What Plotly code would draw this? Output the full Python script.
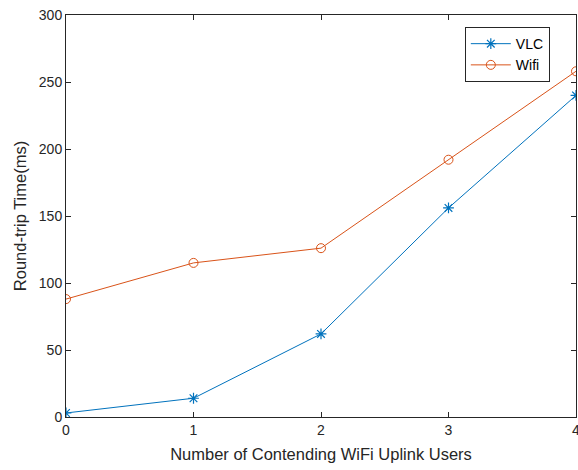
import plotly.graph_objects as go

x_users = [0, 1, 2, 3, 4]
vlc_rtt = [3, 14, 62, 156, 240]
wifi_rtt = [88, 115, 126, 192, 258]
x_ticks = [0, 1, 2, 3, 4]
y_ticks = [0, 50, 100, 150, 200, 250, 300]

fig = go.Figure()
fig.add_trace(go.Scatter(x=x_users, y=vlc_rtt, mode="lines+markers", name="VLC",
                         line=dict(color="#0072BD", width=1),
                         marker=dict(symbol="asterisk-open", size=9, color="#0072BD",
                                     line=dict(color="#0072BD", width=1.2))))
fig.add_trace(go.Scatter(x=x_users, y=wifi_rtt, mode="lines+markers", name="Wifi",
                         line=dict(color="#D95319", width=1),
                         marker=dict(symbol="circle-open", size=9, color="#D95319",
                                     line=dict(color="#D95319", width=1))))

axis_common = dict(showgrid=False, zeroline=False, showline=True, linecolor="#262626",
                   linewidth=1, mirror="ticks", ticks="inside", ticklen=5,
                   tickcolor="#262626", tickfont=dict(size=14, color="#262626"),
                   ticklabeloverflow="allow")
fig.update_xaxes(range=[0, 4], tickvals=x_ticks,
                 title=dict(text="Number of Contending WiFi Uplink Users",
                            font=dict(size=16.5, color="#262626"), standoff=11),
                 **axis_common)
fig.update_yaxes(range=[0, 300], tickvals=y_ticks,
                 title=dict(text="Round-trip Time(ms)", font=dict(size=16.5, color="#262626"),
                            standoff=8),
                 **axis_common)

fig.update_layout(width=578, height=470, margin=dict(l=66, r=2, t=15, b=53, autoexpand=False),
                  plot_bgcolor="white", paper_bgcolor="white",
                  font=dict(family="Liberation Sans, Arial, sans-serif", color="#262626"),
                  legend=dict(x=0.782, y=0.97, xanchor="left", yanchor="top",
                              bordercolor="#262626", borderwidth=1, bgcolor="white",
                              itemwidth=40, font=dict(size=14, color="#000000"),
                              tracegroupgap=0))

fig.write_html("out.html", config={"displayModeBar": False},
               post_script="document.body.style.margin='0';document.body.style.overflow='hidden';")
